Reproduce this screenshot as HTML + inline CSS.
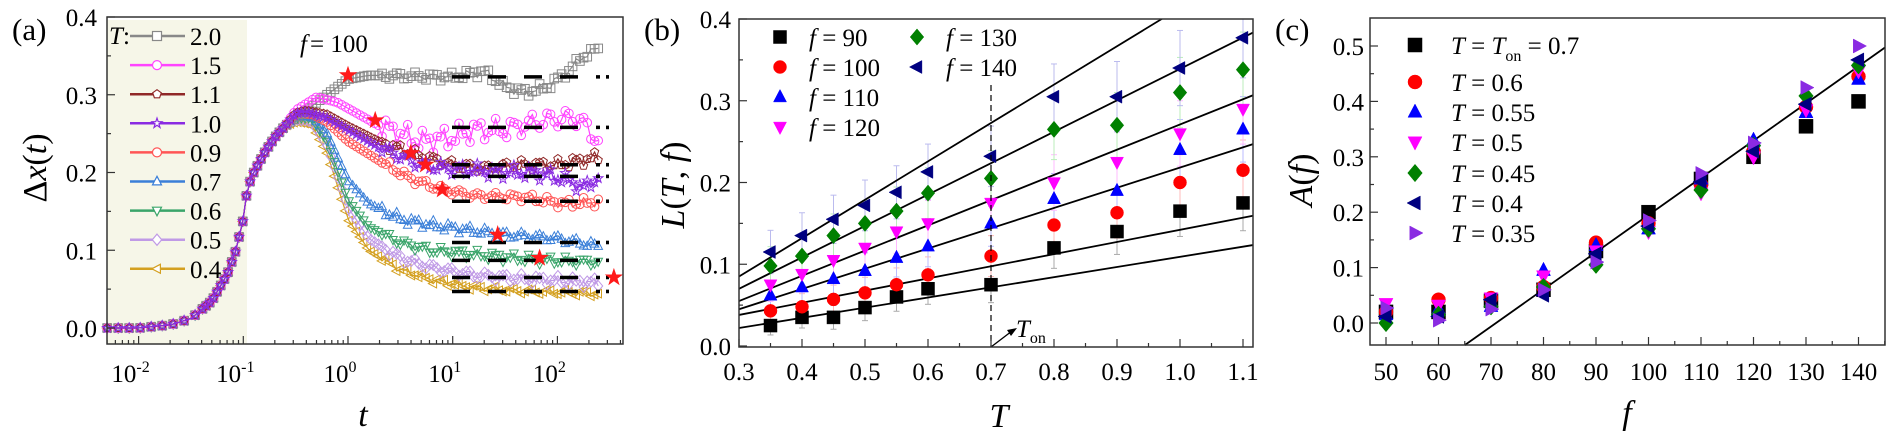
<!DOCTYPE html>
<html><head><meta charset="utf-8">
<style>
html,body{margin:0;padding:0;background:#fff;}
svg{display:block;}
svg text{font-family:"Liberation Serif","DejaVu Serif",serif;}
</style></head>
<body>
<svg id="s" width="1892" height="436" viewBox="0 0 1892 436" xmlns="http://www.w3.org/2000/svg" font-family="Liberation Serif, serif">
<g id="a"></g><g id="b"></g><g id="c"></g>
</svg>
<script>
const NS="http://www.w3.org/2000/svg";
function el(p,t,at,txt){const e=document.createElementNS(NS,t);for(const k in at)e.setAttribute(k,at[k]);if(txt!==undefined)e.textContent=txt;p.appendChild(e);return e;}
function marker(g,type,x,y,r,fill,stroke,sw){
  let a={fill:fill,stroke:stroke,"stroke-width":sw||1};
  if(type=="sq"){el(g,"rect",Object.assign({x:x-r,y:y-r,width:2*r,height:2*r},a));}
  else if(type=="ci"){el(g,"circle",Object.assign({cx:x,cy:y,r:r},a));}
  else{let pts=[];
    if(type=="up")pts=[[0,-1.15],[1,0.75],[-1,0.75]];
    if(type=="dn")pts=[[0,1.15],[1,-0.75],[-1,-0.75]];
    if(type=="lt")pts=[[-1.15,0],[0.75,-1],[0.75,1]];
    if(type=="rt")pts=[[1.15,0],[-0.75,-1],[-0.75,1]];
    if(type=="di")pts=[[0,-1.25],[1.05,0],[0,1.25],[-1.05,0]];
    if(type=="pe"){for(let i=0;i<5;i++){let an=-Math.PI/2+i*2*Math.PI/5;pts.push([Math.cos(an),Math.sin(an)]);}}
    if(type=="st"){for(let i=0;i<10;i++){let an=-Math.PI/2+i*Math.PI/5;let rr=i%2?0.45:1.15;pts.push([rr*Math.cos(an),rr*Math.sin(an)]);}}
    el(g,"polygon",Object.assign({points:pts.map(p=>(x+p[0]*r).toFixed(1)+","+(y+p[1]*r).toFixed(1)).join(" ")},a));}
}
function interp(kp,u){if(u<=kp[0][0])return kp[0][1];for(let i=1;i<kp.length;i++){if(u<=kp[i][0]){let t=(u-kp[i-1][0])/(kp[i][0]-kp[i-1][0]);return kp[i-1][1]+t*(kp[i][1]-kp[i-1][1]);}}return kp[kp.length-1][1];}
const FS=25;

/* ---------- Panel A ---------- */
(function(){
const g=document.getElementById("a");
const L=107,R=623,T=17,B=344;
const X=u=>348+104.7*u, Y=v=>328-777.5*v;
el(g,"rect",{x:L,y:20,width:247-L,height:B-20,fill:"#f6f6e8"});
const common=[[-2.3,0],[-2,0],[-1.7,0.004],[-1.5,0.012],[-1.3,0.035],[-1.15,0.07],[-1.07,0.1],[-1,0.14],[-0.96,0.18],[-0.9,0.2],[-0.8,0.225],[-0.7,0.245],[-0.6,0.26]];
const S=[
 {T:"0.4",c:"#d4a020",m:"lt",k:[[-0.5,0.265],[-0.35,0.262],[-0.2,0.225],[0,0.14],[0.2,0.1],[0.5,0.075],[0.8,0.062],[1.2,0.052],[1.6,0.048],[2,0.046],[2.4,0.044]],n:0.003},
 {T:"0.5",c:"#c09ae6",m:"di",k:[[-0.5,0.268],[-0.35,0.266],[-0.2,0.235],[0,0.155],[0.2,0.115],[0.5,0.09],[0.8,0.078],[1.2,0.068],[1.6,0.064],[2,0.061],[2.4,0.058]],n:0.004},
 {T:"0.6",c:"#3aa56a",m:"dn",k:[[-0.5,0.27],[-0.35,0.27],[-0.2,0.24],[0,0.165],[0.2,0.13],[0.5,0.11],[0.8,0.1],[1.2,0.095],[1.6,0.09],[2,0.087],[2.4,0.085]],n:0.004},
 {T:"0.7",c:"#3a7fd8",m:"up",k:[[-0.5,0.272],[-0.35,0.272],[-0.2,0.25],[0,0.19],[0.2,0.16],[0.5,0.14],[0.8,0.132],[1.2,0.125],[1.5,0.12],[2,0.115],[2.4,0.105]],n:0.004},
 {T:"0.9",c:"#ff5555",m:"ci",k:[[-0.5,0.275],[-0.35,0.275],[-0.2,0.265],[0,0.24],[0.3,0.215],[0.6,0.192],[0.9,0.178],[1.2,0.17],[1.7,0.168],[2.05,0.16],[2.4,0.162]],n:0.004},
 {T:"2.0",c:"#888888",m:"sq",k:[[-0.5,0.27],[-0.3,0.29],[-0.15,0.305],[0,0.32],[0.2,0.325],[1,0.323],[1.3,0.33],[1.5,0.31],[1.7,0.303],[1.9,0.31],[2.1,0.33],[2.25,0.35],[2.4,0.36]],n:0.004},
 {T:"1.5",c:"#ff44ff",m:"ci",k:[[-0.5,0.28],[-0.3,0.297],[-0.1,0.29],[0.1,0.275],[0.3,0.26],[0.5,0.25],[0.7,0.24],[1,0.245],[1.2,0.255],[1.5,0.255],[1.8,0.265],[2.05,0.27],[2.2,0.27],[2.4,0.24]],n:0.01},
 {T:"1.1",c:"#902828",m:"pe",k:[[-0.5,0.277],[-0.4,0.28],[-0.2,0.275],[0,0.26],[0.3,0.24],[0.6,0.225],[1,0.21],[1.3,0.205],[1.6,0.21],[2,0.21],[2.4,0.22]],n:0.005},
 {T:"1.0",c:"#8a2be2",m:"st",k:[[-0.5,0.276],[-0.4,0.278],[-0.2,0.27],[0,0.255],[0.3,0.232],[0.6,0.215],[0.75,0.208],[1,0.205],[1.5,0.2],[1.8,0.2],[2.1,0.19],[2.25,0.18],[2.4,0.195]],n:0.006}
];
S.forEach((s,si)=>{
  const kp=common.concat(s.k);
  let pts=[];
  for(let u=-2.3;u<=2.41;u+=0.035){let v=interp(kp,u);if(u>0.3)v+=s.n*Math.sin(u*37+si*3.1)+s.n*0.6*Math.sin(u*91+si);pts.push([X(u),Y(v)]);}
  el(g,"polyline",{points:pts.map(p=>p[0].toFixed(1)+","+p[1].toFixed(1)).join(" "),fill:"none",stroke:s.c,"stroke-width":1.2});
  pts.forEach((p,i)=>{let u=-2.3+i*0.035;if(u<-1.4&&i%3)return;marker(g,s.m,p[0],p[1],4.3,"none",s.c,1);});
});
[0.323,0.258,0.21,0.195,0.163,0.11,0.087,0.065,0.047].forEach(v=>{
  el(g,"line",{x1:452,y1:Y(v),x2:600,y2:Y(v),stroke:"#000","stroke-width":3.5,"stroke-dasharray":"18 18"});
  el(g,"rect",{x:606,y:Y(v)-1.8,width:3,height:3.6,fill:"#000"});
});
[[0,0.325],[0.26,0.267],[0.6,0.225],[0.74,0.21],[0.9,0.178],[1.43,0.12],[1.83,0.09],[2.54,0.065]].forEach(p=>marker(g,"st",X(p[0]),Y(p[1]),7,"#ff1a1a","#ff1a1a",1));
el(g,"rect",{x:L,y:T,width:R-L,height:B-T,fill:"none",stroke:"#333","stroke-width":1.5});
for(let i=0;i<=8;i++){let v=i*0.05,y=Y(v);el(g,"line",{x1:L,y1:y,x2:L+(i%2?4:8),y2:y,stroke:"#333","stroke-width":1.2});
 if(i%2==0)el(g,"text",{x:L-10,y:y+9,"text-anchor":"end","font-size":FS},(v).toFixed(1));}
for(let d=-3;d<=2;d++){for(let m=1;m<=9;m++){let u=d+Math.log10(m);let x=X(u);if(x<L||x>R)continue;el(g,"line",{x1:x,y1:B,x2:x,y2:B-(m==1?8:4),stroke:"#333","stroke-width":1.2});}
 if(d>=-2){let x=X(d);let t=el(g,"text",{x:x-8,y:382,"text-anchor":"middle","font-size":FS},"10");el(t,"tspan",{dy:-10,"font-size":16},String(d));}}
el(g,"text",{x:109,y:44,"font-size":FS,"font-style":"italic"},"T");
el(g,"text",{x:123,y:44,"font-size":FS},":");
const lg=[["2.0","#888888","sq"],["1.5","#ff44ff","ci"],["1.1","#902828","pe"],["1.0","#8a2be2","st"],["0.9","#ff5555","ci"],["0.7","#3a7fd8","up"],["0.6","#3aa56a","dn"],["0.5","#c09ae6","di"],["0.4","#d4a020","lt"]];
lg.forEach((l,i)=>{let y=36+29.1*i;el(g,"line",{x1:130,y1:y,x2:185,y2:y,stroke:l[1],"stroke-width":2.5});marker(g,l[2],157,y,4.5,"#fff",l[1],1.2);
 el(g,"text",{x:190,y:y+9,"font-size":FS},l[0]);});
el(g,"text",{x:300,y:52,"font-size":FS,"font-style":"italic"},"f");
el(g,"text",{x:310,y:52,"font-size":FS}," = 100");
el(g,"text",{x:12,y:40,"font-size":31},"(a)");
let yl=el(g,"text",{x:0,y:0,"font-size":34,"text-anchor":"middle",transform:"translate(46,168) rotate(-90)"},"Δ");
el(yl,"tspan",{"font-style":"italic"},"x");el(yl,"tspan",{},"(");el(yl,"tspan",{"font-style":"italic"},"t");el(yl,"tspan",{},")");
el(g,"text",{x:363,y:426,"font-size":34,"font-style":"italic","text-anchor":"middle"},"t");
})();

/* ---------- Panel B ---------- */
(function(){
const g=document.getElementById("b");
const L=739,R=1253,T=19,B=347;
const X=t=>739+630*(t-0.3), Y=v=>346-817.5*v;
const Ts=[0.35,0.4,0.45,0.5,0.55,0.6,0.7,0.8,0.9,1.0,1.1];
const D=[
 ["sq","#000",[.025,.035,.035,.047,.06,.07,.075,.12,.14,.165,.175]],
 ["ci","#ff0000",[.043,.048,.057,.065,.075,.087,.11,.148,.163,.2,.215]],
 ["up","#0000ff",[.062,.072,.082,.092,.108,.122,.15,.18,.19,.24,.265]],
 ["dn","#ff00ff",[.075,.088,.105,.12,.14,.15,.175,.2,.225,.26,.29]],
 ["di","#008000",[.098,.11,.135,.15,.165,.187,.205,.265,.27,.31,.338]],
 ["lt","#000080",[.115,.135,.155,.172,.188,.213,.232,.305,.305,.34,.377]]];
const ebc=["#aaa","#fbb","#bbf","#fbf","#beb","#bbe"];
D.forEach((d,j)=>{d[2].forEach((v,i)=>{let e=0.01+0.03*(Ts[i]-0.3)+0.003*j;let x=X(Ts[i]);
 el(g,"line",{x1:x,y1:Y(v-e),x2:x,y2:Y(v+e),stroke:ebc[j],"stroke-width":1});
 el(g,"line",{x1:x-3,y1:Y(v+e),x2:x+3,y2:Y(v+e),stroke:ebc[j],"stroke-width":1});
 el(g,"line",{x1:x-3,y1:Y(v-e),x2:x+3,y2:Y(v-e),stroke:ebc[j],"stroke-width":1});});});
[[0.022,0.124],[0.038,0.16],[0.045,0.248],[0.055,0.308],[0.07,0.385],[0.085,0.47]].forEach(l=>{
 el(g,"line",{x1:L,y1:Y(l[0]),x2:R,y2:Y(l[0]+(l[1]-l[0])*(R-L)/(X(1.12)-L)),stroke:"#000","stroke-width":1.8});});
D.forEach(d=>d[2].forEach((v,i)=>marker(g,d[0],X(Ts[i]),Y(v),6.5,d[1],d[1],0.5)));
el(g,"rect",{x:L-1,y:0,width:R-L+4,height:T,fill:"#fff"});
el(g,"line",{x1:X(0.7),y1:85,x2:X(0.7),y2:B,stroke:"#000","stroke-width":1.2,"stroke-dasharray":"6 4"});
el(g,"line",{x1:X(0.7),y1:B,x2:1012,y2:331,stroke:"#000","stroke-width":1.3});
el(g,"polygon",{points:"1017,328 1007,330 1011,336",fill:"#000"});
let ton=el(g,"text",{x:1016,y:337,"font-size":FS,"font-style":"italic"},"T");el(ton,"tspan",{dy:6,"font-size":16,"font-style":"normal"},"on");
el(g,"rect",{x:L,y:T,width:R-L,height:B-T,fill:"none",stroke:"#333","stroke-width":1.5});
for(let i=0;i<=8;i++){let v=i*0.05,y=Y(v);el(g,"line",{x1:L,y1:y,x2:L+(i%2?4:8),y2:y,stroke:"#333","stroke-width":1.2});
 if(i%2==0)el(g,"text",{x:L-8,y:y+9,"text-anchor":"end","font-size":FS},v.toFixed(1));}
for(let i=0;i<=16;i++){let t=0.3+i*0.05,x=X(t);if(x>R)continue;el(g,"line",{x1:x,y1:B,x2:x,y2:B-(i%2?4:8),stroke:"#333","stroke-width":1.2});
 if(i%2==0)el(g,"text",{x:x,y:380,"text-anchor":"middle","font-size":FS},t.toFixed(1));}
const lg=[["sq","#000","90",780,37],["ci","#ff0000","100",780,67],["up","#0000ff","110",780,97],["dn","#ff00ff","120",780,127],["di","#008000","130",917,37],["lt","#000080","140",917,67]];
lg.forEach(l=>{marker(g,l[0],l[3],l[4],6.5,l[1],l[1],0.5);let t=el(g,"text",{x:l[3]+29,y:l[4]+9,"font-size":FS});el(t,"tspan",{"font-style":"italic"},"f");el(t,"tspan",{}," = "+l[2]);});
el(g,"text",{x:644,y:40,"font-size":31},"(b)");
let yl=el(g,"text",{x:0,y:0,"font-size":34,"text-anchor":"middle",transform:"translate(684,185) rotate(-90)"});
el(yl,"tspan",{"font-style":"italic"},"L");el(yl,"tspan",{},"(");el(yl,"tspan",{"font-style":"italic"},"T");el(yl,"tspan",{},", ");el(yl,"tspan",{"font-style":"italic"},"f");el(yl,"tspan",{},")");
el(g,"text",{x:999,y:427,"font-size":34,"font-style":"italic","text-anchor":"middle"},"T");
})();

/* ---------- Panel C ---------- */
(function(){
const g=document.getElementById("c");
const L=1370,R=1885,T=18,B=345;
const X=f=>1386+5.25*(f-50), Y=v=>323-554*v;
const Fs=[50,60,70,80,90,100,110,120,130,140];
const D=[
 ["sq","#000",[0.02,0.02,0.04,0.06,0.13,0.2,0.26,0.3,0.355,0.4]],
 ["ci","#ff0000",[0.02,0.042,0.045,0.065,0.145,0.18,0.25,0.31,0.39,0.445]],
 ["up","#0000ff",[0.015,0.025,0.03,0.095,0.14,0.17,0.26,0.33,0.38,0.44]],
 ["dn","#ff00ff",[0.035,0.032,0.045,0.085,0.13,0.165,0.235,0.3,0.385,0.455]],
 ["di","#008000",[0.0,0.015,0.03,0.065,0.105,0.17,0.24,0.32,0.41,0.465]],
 ["lt","#000080",[0.012,0.012,0.042,0.05,0.125,0.175,0.255,0.31,0.395,0.475]],
 ["rt","#8a2be2",[0.027,0.005,0.025,0.06,0.11,0.185,0.27,0.325,0.425,0.5]]];
el(g,"line",{x1:X(65),y1:Y(-0.04),x2:R,y2:Y(-0.04+0.537*(R-X(65))/(X(145)-X(65))),stroke:"#000","stroke-width":1.8});
D.forEach(d=>d[2].forEach((v,i)=>marker(g,d[0],X(Fs[i]),Y(v),7,d[1],d[1],0.5)));
el(g,"rect",{x:L,y:T,width:R-L,height:B-T,fill:"none",stroke:"#333","stroke-width":1.5});
for(let i=-1;i<=10;i++){let v=i*0.05,y=Y(v);if(y>B||y<T)continue;el(g,"line",{x1:L,y1:y,x2:L+(i%2?4:8),y2:y,stroke:"#333","stroke-width":1.2});
 if(i%2==0&&i>=0)el(g,"text",{x:L-6,y:y+9,"text-anchor":"end","font-size":FS},v.toFixed(1));}
for(let f=45;f<=145;f+=5){let x=X(f);if(x<L||x>R)continue;el(g,"line",{x1:x,y1:B,x2:x,y2:B-(f%10?4:8),stroke:"#333","stroke-width":1.2});
 if(f%10==0)el(g,"text",{x:x,y:380,"text-anchor":"middle","font-size":FS},String(f));}
const lg=[["sq","#000"],["ci","#ff0000"],["up","#0000ff"],["dn","#ff00ff"],["di","#008000"],["lt","#000080"],["rt","#8a2be2"]];
const lbl=["0.7","0.6","0.55","0.5","0.45","0.4","0.35"];
const ly=[45,82,112,142,173,203,233];
lg.forEach((l,i)=>{marker(g,l[0],1415,ly[i],7,l[1],l[1],0.5);
 let t=el(g,"text",{x:1451,y:ly[i]+9,"font-size":FS});el(t,"tspan",{"font-style":"italic"},"T");
 if(i==0){el(t,"tspan",{}," = ");el(t,"tspan",{"font-style":"italic"},"T");el(t,"tspan",{dy:7,"font-size":16},"on");el(t,"tspan",{dy:-7}," = 0.7");}
 else el(t,"tspan",{}," = "+lbl[i]);});
el(g,"text",{x:1275,y:40,"font-size":31},"(c)");
let yl=el(g,"text",{x:0,y:0,"font-size":34,"text-anchor":"middle",transform:"translate(1312,180) rotate(-90)"});
el(yl,"tspan",{"font-style":"italic"},"A");el(yl,"tspan",{},"(");el(yl,"tspan",{"font-style":"italic"},"f");el(yl,"tspan",{},")");
el(g,"text",{x:1627,y:424,"font-size":34,"font-style":"italic","text-anchor":"middle"},"f");
})();
</script>
</body></html>
